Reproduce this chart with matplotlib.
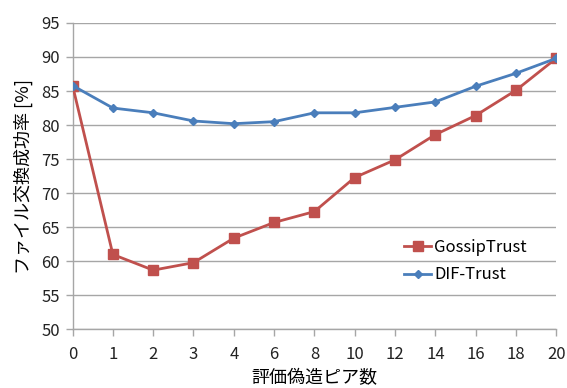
import matplotlib.pyplot as plt

plt.rcParams['font.family'] = ['Noto Sans CJK JP', 'DejaVu Sans']

# number of forged-rating peers (categorical axis)
peers = ['0', '1', '2', '3', '4', '6', '8', '10', '12', '14', '16', '18', '20']
gossip = [85.8, 61.0, 58.7, 59.8, 63.4, 65.7, 67.3, 72.3, 74.9, 78.6, 81.4, 85.1, 89.8]
dif = [85.8, 82.5, 81.8, 80.6, 80.2, 80.5, 81.8, 81.8, 82.6, 83.4, 85.7, 87.6, 89.8]

red = '#C0504D'
blue = '#4A7EBB'
grid = '#A6A6A6'


def main():
    fig = plt.figure(figsize=(5.67, 3.88), dpi=100)
    ax = fig.add_axes([0.128, 0.151, 0.853, 0.790])

    xs = range(len(peers))
    ax.plot(xs, gossip, color=red, lw=2.0, marker='s', ms=6.5,
            label='GossipTrust', zorder=3)
    ax.plot(xs, dif, color=blue, lw=2.0, marker='D', ms=4.5,
            label='DIF-Trust', zorder=4)

    ax.set_xlim(0, len(peers) - 1)
    ax.set_ylim(50, 95)
    ax.set_xticks(list(xs))
    ax.set_xticklabels(peers)
    ax.set_yticks(range(50, 96, 5))

    ax.grid(axis='y', color=grid, lw=1.0)
    ax.set_axisbelow(True)
    for side in ('top', 'right'):
        ax.spines[side].set_visible(False)
    for side in ('left', 'bottom'):
        ax.spines[side].set_color(grid)
        ax.spines[side].set_linewidth(1.0)
    ax.tick_params(axis='both', colors=grid, length=5, width=1.0,
                   labelsize=12, labelcolor='#222222')
    ax.tick_params(axis='x', pad=7)
    ax.tick_params(axis='y', pad=4)

    ax.set_xlabel('評価偽造ピア数', fontsize=13, labelpad=4)
    ax.set_ylabel('ファイル交換成功率 [%]', fontsize=13, labelpad=6)

    ax.legend(loc='upper left', bbox_to_anchor=(0.655, 0.345), frameon=False,
              fontsize=12, handlelength=1.6, handletextpad=0.2,
              labelspacing=0.65)

    fig.savefig('out.png', dpi=100)


if __name__ == '__main__':
    main()
